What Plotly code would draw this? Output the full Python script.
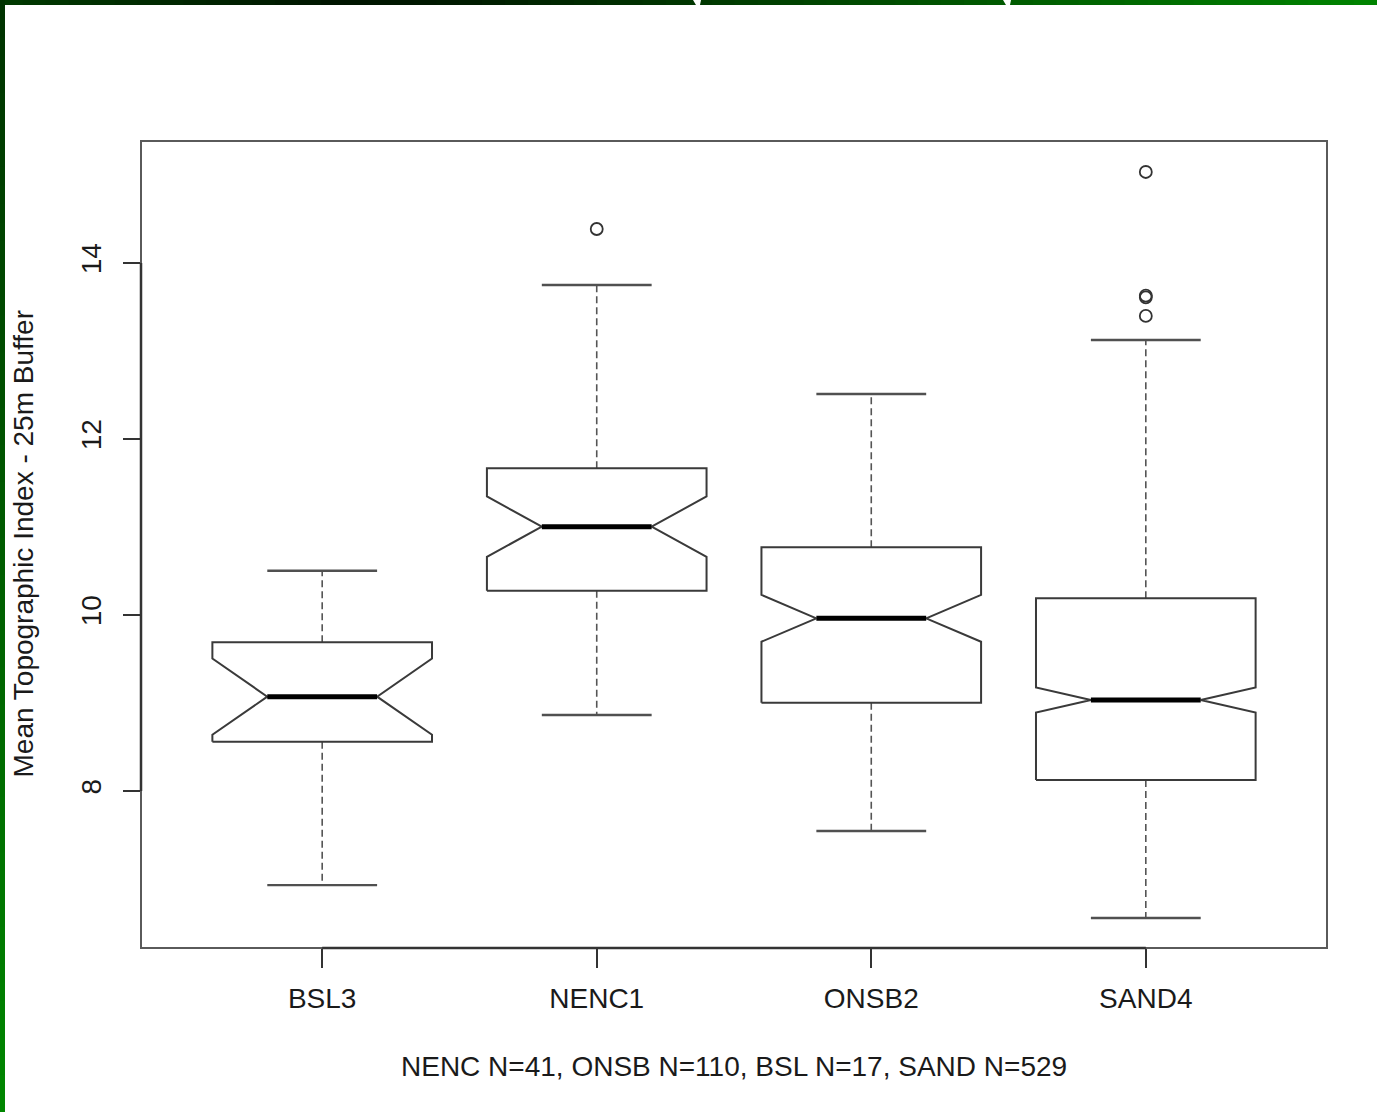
import plotly.graph_objects as go

# Summary statistics per site (notched box plot)
categories = ["BSL3", "NENC1", "ONSB2", "SAND4"]
n_obs = [17, 41, 110, 529]
lower_whisker = [6.93, 8.864, 7.545, 6.557]
q1 = [8.56, 10.276, 9.003, 8.125]
median = [9.072, 11.004, 9.962, 9.034]
q3 = [9.69, 11.667, 10.769, 10.189]
upper_whisker = [10.503, 13.75, 12.511, 13.125]
outlier_pos = [2, 4, 4, 4, 4]
outlier_val = [14.386, 15.034, 13.61, 13.63, 13.398]

y_title = "Mean Topographic Index - 25m Buffer"
subtitle = "NENC N=41, ONSB N=110, BSL N=17, SAND N=529"

FONT = "Liberation Sans, Arial, sans-serif"
TXT = "#1a1a1a"
BOX_W = 0.4      # half box width (x units)
CAP_W = 0.2      # half staple / median width

# plot area geometry in pixels
W, H = 1377, 1112
L, R, T, B = 141, 50, 141, 164
PW, PH = W - L - R, H - T - B


def px_x(p):
    return (p - L) / PW


def px_y(p):
    return (H - B - p) / PH


fig = go.Figure()

for i, cat in enumerate(categories):
    x = i + 1
    iqr = q3[i] - q1[i]
    notch = 1.58 * iqr / n_obs[i] ** 0.5
    nh, nl = median[i] + notch, median[i] - notch
    xs = [x - BOX_W, x - BOX_W, x - BOX_W / 2, x - BOX_W, x - BOX_W,
          x + BOX_W, x + BOX_W, x + BOX_W / 2, x + BOX_W, x + BOX_W, x - BOX_W]
    ys = [q1[i], nl, median[i], nh, q3[i], q3[i], nh, median[i], nl, q1[i], q1[i]]
    # whiskers (dashed)
    fig.add_trace(go.Scatter(
        x=[x, x, None, x, x], y=[q3[i], upper_whisker[i], None, q1[i], lower_whisker[i]],
        mode="lines", line=dict(color="#555555", width=1.6, dash="7px,4px"),
        hoverinfo="skip", showlegend=False))
    # staples
    fig.add_trace(go.Scatter(
        x=[x - CAP_W, x + CAP_W, None, x - CAP_W, x + CAP_W],
        y=[upper_whisker[i], upper_whisker[i], None, lower_whisker[i], lower_whisker[i]],
        mode="lines", line=dict(color="#505050", width=2.4),
        hoverinfo="skip", showlegend=False))
    # notched box
    fig.add_trace(go.Scatter(
        x=xs, y=ys, mode="lines", fill="toself", fillcolor="white",
        line=dict(color="#3a3a3a", width=2), hoverinfo="skip", showlegend=False))
    # median
    fig.add_trace(go.Scatter(
        x=[x - CAP_W, x + CAP_W], y=[median[i], median[i]], mode="lines",
        line=dict(color="#000000", width=5), hoverinfo="skip", showlegend=False))

fig.add_trace(go.Scatter(
    x=outlier_pos, y=outlier_val, mode="markers",
    marker=dict(symbol="circle-open", size=12, color="#333333", line=dict(width=1.8)),
    hoverinfo="skip", showlegend=False))

shapes = [
    # plot frame
    dict(type="rect", xref="paper", yref="paper", x0=0, x1=1, y0=0, y1=1,
         line=dict(color="#5a5a5a", width=2), layer="above"),
    # axis lines
    dict(type="line", xref="paper", yref="y", x0=0, x1=0, y0=8, y1=14,
         line=dict(color="#333333", width=2.5), layer="above"),
    dict(type="line", xref="x", yref="paper", x0=1, x1=4, y0=0, y1=0,
         line=dict(color="#333333", width=2.5), layer="above"),
]


def lerp(c1, c2, t):
    return "rgb({},{},{})".format(*[round(a + (b - a) * t) for a, b in zip(c1, c2)])


def gradient(stops, t):
    for (t0, c0), (t1, c1) in zip(stops, stops[1:]):
        if t0 <= t <= t1:
            return lerp(c0, c1, (t - t0) / (t1 - t0) if t1 > t0 else 0)
    return lerp(stops[-1][1], stops[-1][1], 0)


# green page border: top strip
top_stops = [(0, (0, 58, 0)), (0.25, (0, 20, 0)), (0.32, (0, 25, 0)),
             (0.6, (0, 70, 0)), (1.0, (0, 132, 0))]
nseg = 60
for k in range(nseg):
    a, b = k / nseg, (k + 1) / nseg
    shapes.append(dict(type="rect", xref="paper", yref="paper",
                       x0=px_x(a * W), x1=px_x(b * W + 1), y0=px_y(5), y1=px_y(0),
                       fillcolor=gradient(top_stops, (a + b) / 2), line=dict(width=0),
                       layer="above"))
# left strip
left_stops = [(0, (0, 50, 0)), (1.0, (0, 135, 0))]
for k in range(nseg):
    a, b = k / nseg, (k + 1) / nseg
    shapes.append(dict(type="rect", xref="paper", yref="paper",
                       x0=px_x(0), x1=px_x(5), y0=px_y(b * H + 1), y1=px_y(a * H),
                       fillcolor=gradient(left_stops, (a + b) / 2), line=dict(width=0),
                       layer="above"))
# light wedges in the top strip
for xa in (693, 1003):
    shapes.append(dict(type="path", xref="paper", yref="paper",
                       path="M {} {} L {} {} L {} {} L {} {} Z".format(
                           px_x(xa), px_y(0), px_x(xa + 8), px_y(0),
                           px_x(xa + 7), px_y(5), px_x(xa + 3), px_y(5)),
                       fillcolor="white", line=dict(width=0), layer="above"))

fig.update_layout(
    width=W, height=H,
    margin=dict(l=L, r=R, t=T, b=B, pad=0),
    plot_bgcolor="white", paper_bgcolor="white",
    font=dict(family=FONT, size=28, color=TXT),
    shapes=shapes,
    xaxis=dict(range=[0.34, 4.66], tickvals=[1, 2, 3, 4], ticktext=categories,
               ticks="outside", ticklen=19, tickwidth=1.6, tickcolor="#333333",
               showgrid=False, zeroline=False, showline=False,
               tickfont=dict(family=FONT, size=28, color=TXT), ticklabelstandoff=6),
    yaxis=dict(range=[6.216, 15.386], tickvals=[8, 10, 12, 14],
               ticks="outside", ticklen=17, tickwidth=1.6, tickcolor="#333333",
               showgrid=False, zeroline=False, showline=False, tickangle=-90,
               tickfont=dict(family=FONT, size=28, color=TXT), ticklabelstandoff=11),
    annotations=[
        dict(text=y_title, xref="paper", yref="paper", x=px_x(23), y=0.5,
             xanchor="center", yanchor="middle", textangle=-90, showarrow=False,
             font=dict(family=FONT, size=28, color=TXT)),
        dict(text=subtitle, xref="paper", yref="paper", x=0.5, y=px_y(1066),
             xanchor="center", yanchor="middle", showarrow=False,
             font=dict(family=FONT, size=28, color=TXT)),
    ],
)

fig.write_html("out.html")
